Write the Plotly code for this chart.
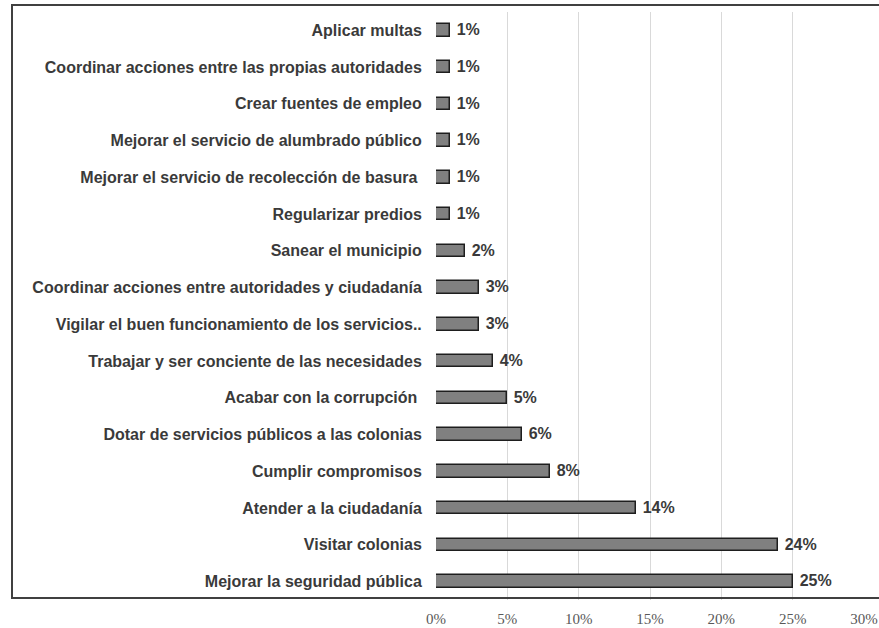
import plotly.graph_objects as go

# top to bottom as in the chart
categorias = [
    "Aplicar multas",
    "Coordinar acciones entre las propias autoridades",
    "Crear fuentes de empleo",
    "Mejorar el servicio de alumbrado público",
    "Mejorar el servicio de recolección de basura\u00a0",
    "Regularizar predios",
    "Sanear el municipio",
    "Coordinar acciones entre autoridades y ciudadanía",
    "Vigilar el buen funcionamiento de los servicios..",
    "Trabajar y ser conciente de las necesidades",
    "Acabar con la corrupción\u00a0",
    "Dotar de servicios públicos a las colonias",
    "Cumplir compromisos",
    "Atender a la ciudadanía",
    "Visitar colonias",
    "Mejorar la seguridad pública",
]
porcentajes = [1, 1, 1, 1, 1, 1, 2, 3, 3, 4, 5, 6, 8, 14, 24, 25]

grid_vals = [0, 5, 10, 15, 20, 25]
tick_vals = [0, 5, 10, 15, 20, 25, 30]
tick_text = ["0%", "5%", "10%", "15%", "20%", "25%", "30%"]

W, H = 879, 628
ml, mr, mt, mb = 436, 15, 12, 28

fig = go.Figure()

fig.add_trace(go.Bar(
    x=porcentajes,
    y=categorias,
    orientation="h",
    width=0.34,
    marker=dict(color="#808080", line=dict(color="#1e1e1e", width=1.5)),
    text=["\u00a0" + str(v) + "%" for v in porcentajes],
    textposition="outside",
    constraintext="none",
    cliponaxis=False,
    textfont=dict(family="Liberation Sans", size=16, color="#3a3a3a", weight="bold"),
    hoverinfo="skip",
))

# invisible trace so the label axis is drawn
fig.add_trace(go.Scatter(
    x=[0], y=[categorias[0]], xaxis="x2", mode="markers",
    marker=dict(opacity=0), hoverinfo="skip", showlegend=False,
))

# frame around the chart (open on the right)
pw = W - ml - mr
ph = H - mt - mb
x_left = (12 - ml) / pw
x_right = (W + 10 - ml) / pw
y_top = (H - mb - 5) / ph
y_bot = (H - mb - 598) / ph
fig.add_shape(
    type="path",
    xref="paper", yref="paper",
    path="M %f %f L %f %f L %f %f L %f %f" % (
        x_right, y_top, x_left, y_top, x_left, y_bot, x_right, y_bot),
    line=dict(color="#404040", width=2),
)

fig.update_layout(
    width=W, height=H,
    margin=dict(l=ml, r=mr, t=mt, b=mb, autoexpand=False),
    paper_bgcolor="white",
    plot_bgcolor="white",
    showlegend=False,
    bargap=0,
    xaxis=dict(
        range=[0, 30],
        tickvals=grid_vals,
        showticklabels=False,
        showgrid=True,
        gridcolor="#d9d9d9",
        gridwidth=1,
        zeroline=False,
        showline=False,
        automargin=False,
        fixedrange=True,
    ),
    xaxis2=dict(
        range=[0, 30],
        overlaying="x",
        side="bottom",
        tickvals=tick_vals,
        ticktext=tick_text,
        showgrid=False,
        zeroline=False,
        showline=False,
        automargin=False,
        ticks="outside",
        ticklen=5,
        tickcolor="rgba(0,0,0,0)",
        tickfont=dict(family="Liberation Serif", size=15, color="#595959"),
    ),
    yaxis=dict(
        range=[len(categorias) - 0.5, -0.5],
        showgrid=False,
        zeroline=False,
        showline=False,
        automargin=False,
        ticks="outside",
        ticklen=10,
        tickcolor="rgba(0,0,0,0)",
        tickfont=dict(family="Liberation Sans", size=16, color="#3a3a3a", weight="bold"),
    ),
)

fig.write_html("out.html", config={"displayModeBar": False},
               post_script="document.body.style.margin='0';")
